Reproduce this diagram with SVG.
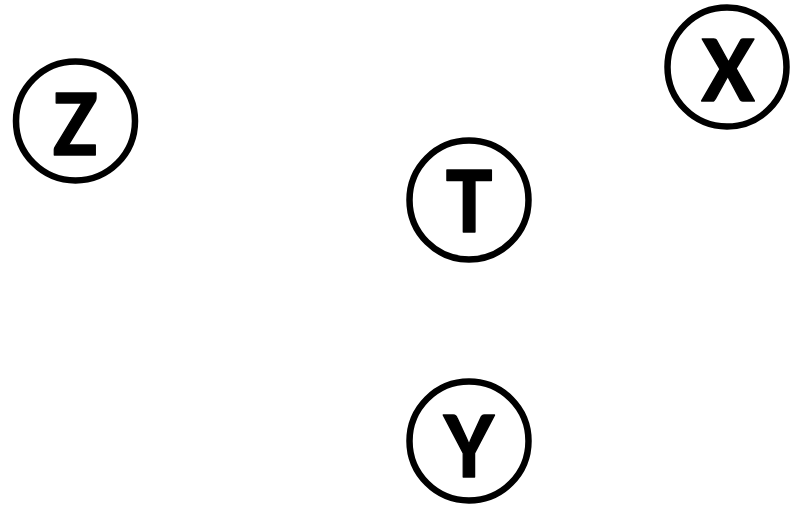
<svg xmlns="http://www.w3.org/2000/svg" width="792" height="508" viewBox="0 0 792 508">
<style>
.node circle{fill:#fff;stroke:#000;stroke-width:6.5}
.node text{font-family:"Lato","Liberation Sans",sans-serif;font-weight:900;font-size:86px;text-anchor:middle;fill:#000;stroke:#000;stroke-width:1.5;stroke-linejoin:round}
</style>
<rect width="792" height="508" fill="#fff"/>
<g id="connectors"></g>
<g id="node-Z" class="node"><circle cx="75.5" cy="121" r="59.5"/><text transform="translate(75.5 155) scale(0.86 1)">Z</text></g>
<g id="node-T" class="node"><circle cx="469" cy="200" r="59.5"/><text transform="translate(469 232) scale(0.9 1)">T</text></g>
<g id="node-X" class="node"><circle cx="727" cy="67" r="59.5"/><text transform="translate(728 101) scale(0.9 1)">X</text></g>
<g id="node-Y" class="node"><circle cx="469" cy="441" r="59.5"/><text transform="translate(469 477) scale(0.88 1)">Y</text></g>
</svg>
